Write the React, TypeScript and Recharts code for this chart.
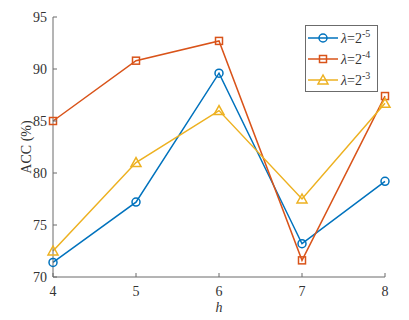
import { Line, LineChart, XAxis, YAxis, Legend } from "recharts";

const H_VALUES = [4, 5, 6, 7, 8];
const LAMBDA_5 = [71.4, 77.2, 89.6, 73.2, 79.2];
const LAMBDA_4 = [85.0, 90.8, 92.7, 71.6, 87.4];
const LAMBDA_3 = [72.5, 81.0, 86.0, 77.5, 86.7];
const Y_TICKS = [70, 75, 80, 85, 90, 95];

const SERIES = [
  { key: "l5", exp: "-5", color: "#0072BD", shape: "circle" },
  { key: "l4", exp: "-4", color: "#D95319", shape: "square" },
  { key: "l3", exp: "-3", color: "#EDB120", shape: "triangle" },
];

const data = H_VALUES.map((h, i) => ({
  h,
  l5: LAMBDA_5[i],
  l4: LAMBDA_4[i],
  l3: LAMBDA_3[i],
}));

const FONT = "'Liberation Serif', 'Times New Roman', serif";
const FS = 14;
const AXIS = "#6b6b6b";
const TEXT = "#333";

function Marker({ cx, cy, color, shape }: any) {
  if (cx == null || cy == null) return null;
  if (shape === "circle")
    return <circle cx={cx} cy={cy} r={4} fill="none" stroke={color} strokeWidth={1.5} />;
  if (shape === "square")
    return <rect x={cx - 3.5} y={cy - 3.5} width={7} height={7} fill="none" stroke={color} strokeWidth={1.5} />;
  return (
    <polygon
      points={`${cx},${cy - 5} ${cx - 5},${cy + 4} ${cx + 5},${cy + 4}`}
      fill="none"
      stroke={color}
      strokeWidth={1.5}
    />
  );
}

const BottomTick = ({ x, y, payload }: any) => (
  <g>
    <line x1={x} y1={y} x2={x} y2={y - 4} stroke={AXIS} />
    <text x={x} y={y + 19} textAnchor="middle" fontFamily={FONT} fontSize={FS} fill={TEXT}>
      {payload.value}
    </text>
  </g>
);

const TopTick = ({ x, y }: any) => <line x1={x} y1={y} x2={x} y2={y + 4} stroke={AXIS} />;

const LeftTick = ({ x, y, payload }: any) => (
  <g>
    <line x1={x} y1={y} x2={x + 4} y2={y} stroke={AXIS} />
    <text x={x - 6} y={y + 5} textAnchor="end" fontFamily={FONT} fontSize={FS} fill={TEXT}>
      {payload.value}
    </text>
  </g>
);

const RightTick = ({ x, y }: any) => <line x1={x} y1={y} x2={x - 4} y2={y} stroke={AXIS} />;

function LegendBox() {
  return (
    <svg width={73} height={67} style={{ display: "block" }}>
      <rect x={0.5} y={0.5} width={72} height={66} fill="#fff" stroke={AXIS} />
      {SERIES.map((s, i) => {
        const cy = 13 + i * 21;
        return (
          <g key={s.key}>
            <line x1={3} y1={cy} x2={33} y2={cy} stroke={s.color} strokeWidth={1.5} />
            <Marker cx={18} cy={cy} color={s.color} shape={s.shape} />
            <text x={36} y={cy + 5} fontFamily={FONT} fontSize={FS} fill={TEXT}>
              <tspan fontStyle="italic">λ</tspan>=2
              <tspan dy={-6} fontSize={10}>
                {s.exp}
              </tspan>
            </text>
          </g>
        );
      })}
    </svg>
  );
}

export default function App() {
  return (
    <div style={{ position: "absolute", left: 0, top: 0, background: "#fff" }}>
      <LineChart width={409} height={320} data={data} margin={{ top: 17, right: 24, bottom: 0, left: 8 }}>
        <XAxis
          dataKey="h"
          type="number"
          domain={[4, 8]}
          ticks={H_VALUES}
          height={43}
          stroke={AXIS}
          tickSize={0}
          tickMargin={0}
          tick={<BottomTick />}
          tickLine={false}
          label={({ viewBox }: any) => (
            <text
              x={viewBox.x + viewBox.width / 2}
              y={312}
              textAnchor="middle"
              fontFamily={FONT}
              fontStyle="italic"
              fontSize={FS}
              fill={TEXT}
            >
              h
            </text>
          )}
        />
        <XAxis
          xAxisId="top"
          dataKey="h"
          type="number"
          orientation="top"
          domain={[4, 8]}
          ticks={H_VALUES}
          height={0}
          stroke={AXIS}
          tickSize={0}
          tickMargin={0}
          tick={<TopTick />}
          tickLine={false}
        />
        <YAxis
          type="number"
          domain={[70, 95]}
          ticks={Y_TICKS}
          width={45}
          stroke={AXIS}
          tickSize={0}
          tickMargin={0}
          tick={<LeftTick />}
          tickLine={false}
          label={() => (
            <text
              x={26}
              y={147}
              transform="rotate(-90, 26, 147)"
              textAnchor="middle"
              dominantBaseline="central"
              fontFamily={FONT}
              fontSize={FS}
              fill={TEXT}
            >
              ACC (%)
            </text>
          )}
        />
        <YAxis
          yAxisId="right"
          orientation="right"
          type="number"
          domain={[70, 95]}
          ticks={Y_TICKS}
          width={0}
          stroke={AXIS}
          tickSize={0}
          tickMargin={0}
          tick={<RightTick />}
          tickLine={false}
        />
        <Legend
          layout="vertical"
          verticalAlign="middle"
          align="center"
          wrapperStyle={{ top: 25, left: 305, width: 73 }}
          content={() => <LegendBox />}
        />
        {/* invisible series so the mirrored top/right axes get a domain */}
        <Line
          xAxisId="top"
          yAxisId="right"
          dataKey="l5"
          stroke="none"
          dot={false}
          activeDot={false}
          legendType="none"
          isAnimationActive={false}
        />
        {SERIES.map((s) => (
          <Line
            key={s.key}
            dataKey={s.key}
            stroke={s.color}
            strokeWidth={1.5}
            isAnimationActive={false}
            dot={(p: any) => <Marker key={`${s.key}-${p.index}`} cx={p.cx} cy={p.cy} color={s.color} shape={s.shape} />}
            activeDot={false}
          />
        ))}
      </LineChart>
    </div>
  );
}
